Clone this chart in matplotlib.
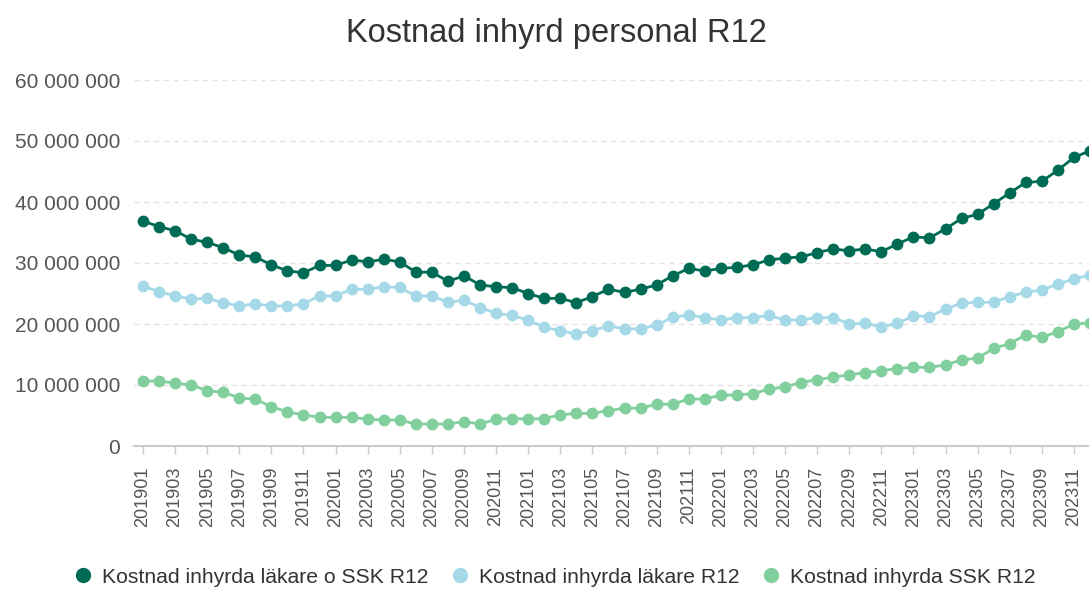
import matplotlib.pyplot as plt
from matplotlib.ticker import FuncFormatter

plt.rcParams['font.family'] = ['Liberation Sans', 'DejaVu Sans']

months = [f'{y}{m:02d}' for y in range(2019, 2024) for m in range(1, 13)]

# values in millions SEK
lakare_ssk = [36.9, 35.95, 35.3, 33.9, 33.4, 32.5, 31.3, 31.0, 29.7, 28.7, 28.4, 29.6,
              29.6, 30.5, 30.2, 30.6, 30.2, 28.5, 28.5, 27.0, 27.9, 26.4, 26.1, 25.95,
              25.0, 24.2, 24.2, 23.5, 24.5, 25.7, 25.2, 25.7, 26.4, 27.9, 29.1, 28.7,
              29.1, 29.3, 29.7, 30.5, 30.8, 31.0, 31.7, 32.3, 32.0, 32.3, 31.85, 33.1,
              34.3, 34.1, 35.6, 37.3, 38.0, 39.7, 41.5, 43.2, 43.4, 45.2, 47.3, 48.4]
lakare = [26.2, 25.3, 24.6, 24.1, 24.2, 23.5, 22.95, 23.3, 22.95, 22.95, 23.3, 24.6,
          24.6, 25.7, 25.7, 26.1, 26.0, 24.6, 24.6, 23.55, 23.9, 22.7, 21.75, 21.4,
          20.65, 19.45, 18.9, 18.35, 18.9, 19.7, 19.2, 19.2, 19.85, 21.1, 21.5, 21.05,
          20.65, 21.05, 21.05, 21.4, 20.65, 20.65, 21.05, 21.05, 20.05, 20.1, 19.55, 20.1,
          21.35, 21.2, 22.45, 23.4, 23.55, 23.55, 24.5, 25.2, 25.6, 26.5, 27.4, 28.0]
ssk = [10.65, 10.65, 10.3, 10.0, 9.07, 8.8, 7.9, 7.65, 6.45, 5.6, 5.1, 4.7,
       4.7, 4.7, 4.4, 4.26, 4.26, 3.6, 3.6, 3.6, 4.0, 3.6, 4.4, 4.5,
       4.4, 4.5, 5.1, 5.35, 5.35, 5.8, 6.2, 6.2, 6.85, 6.85, 7.7, 7.7,
       8.35, 8.35, 8.6, 9.3, 9.7, 10.4, 10.9, 11.25, 11.7, 12.0, 12.35, 12.7,
       12.9, 12.9, 13.3, 14.1, 14.4, 16.0, 16.8, 18.2, 17.8, 18.75, 19.95, 20.2]

series = [
    ('Kostnad inhyrda läkare o SSK R12', lakare_ssk, '#006b54'),
    ('Kostnad inhyrda läkare R12', lakare, '#a6d9e8'),
    ('Kostnad inhyrda SSK R12', ssk, '#80cf9c'),
]

fig = plt.figure(figsize=(10.89, 5.90), dpi=100)
ax = fig.add_axes([134 / 1089, 1 - 446 / 590, 1 - 134 / 1089, (446 - 80) / 590])

x = list(range(len(months)))
for name, vals, col in series:
    ax.plot(x, [v * 1e6 for v in vals], color=col, lw=2, marker='o', ms=7.5,
            label=name, clip_on=False, zorder=3)

ax.set_xlim(-0.56, 58.94)
ax.set_ylim(0, 60e6)
ax.set_yticks(range(0, 60000001, 10000000))
ax.yaxis.set_major_formatter(FuncFormatter(lambda v, p: f'{int(v):,}'.replace(',', ' ')))
ax.set_xticks(x[::2])
ax.set_xticklabels(months[::2], rotation=90)

ax.grid(axis='y', color='#e3e3e3', ls=(0, (4, 3)), lw=1)
ax.set_axisbelow(True)
for s in ['top', 'right', 'left']:
    ax.spines[s].set_visible(False)
ax.spines['bottom'].set_color('#cccccc')
ax.spines['bottom'].set_linewidth(1.5)
ax.tick_params(axis='y', length=0, pad=10, labelsize=15, labelcolor='#555555')
ax.tick_params(axis='x', length=6, width=1, color='#cccccc', pad=9,
               labelsize=13, labelcolor='#555555')

fig.text(0.5106, 0.944, 'Kostnad inhyrd personal R12', ha='center', va='center',
         fontsize=23.5, color='#333333')

fig.legend(loc='center', bbox_to_anchor=(0.5106, 0.022), ncol=3, frameon=False,
           fontsize=15.2, handlelength=0.6, handletextpad=0.6, columnspacing=1.2,
           labelcolor='#333333')
leg = fig.legends[0]
for h in leg.legend_handles:
    h.set_linestyle('none')
    h.set_markersize(10)

fig.savefig('out.png', dpi=100)
